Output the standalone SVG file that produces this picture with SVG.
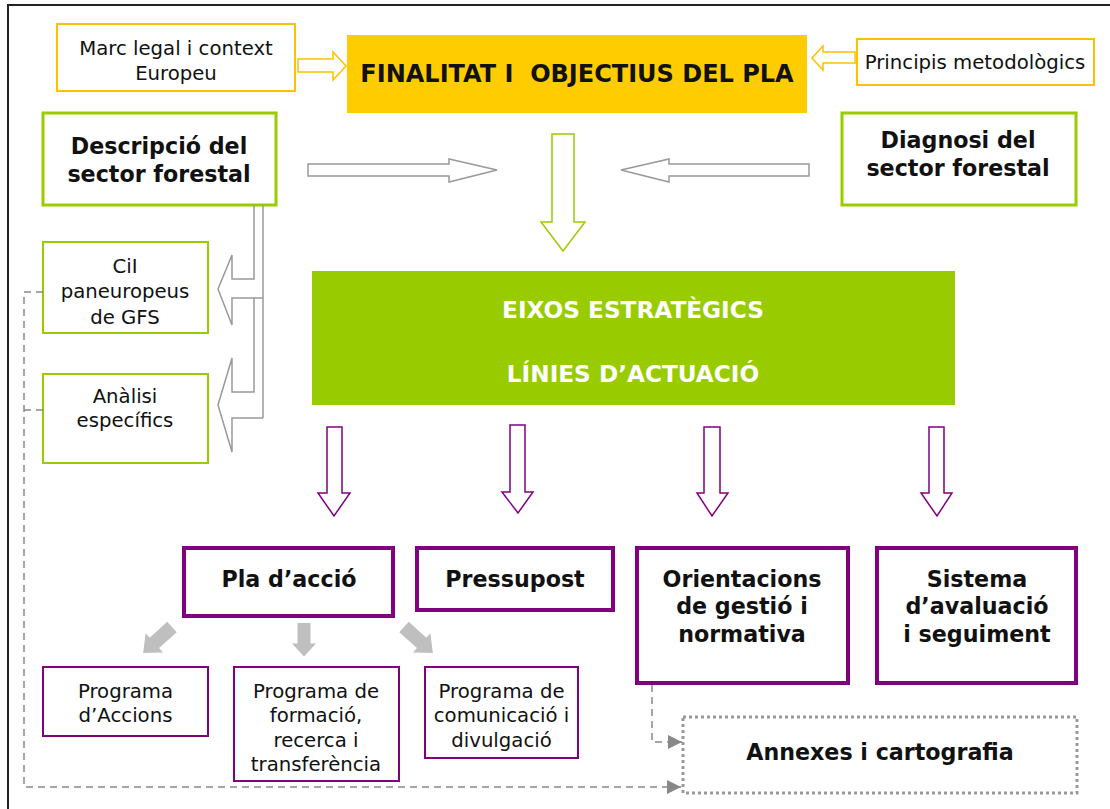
<svg xmlns="http://www.w3.org/2000/svg" width="1110" height="809" viewBox="0 0 1110 809">
<defs>
<style>
text{font-family:"DejaVu Sans","Verdana","Liberation Sans",sans-serif;fill:#111;text-anchor:middle}
.n{font-size:19.7px}
.b{font-size:22.2px;font-weight:bold}
.cap{font-size:23.2px}
.w{fill:#fff}
.yb{fill:#fff;stroke:#FFC000;stroke-width:2}
.gb{fill:#fff;stroke:#99CC00;stroke-width:3}
.gbt{fill:#fff;stroke:#99CC00;stroke-width:2}
.pb{fill:#fff;stroke:#800080;stroke-width:4}
.pbt{fill:#fff;stroke:#800080;stroke-width:2}
.ya{fill:#fff;stroke:#FFC000;stroke-width:1.5}
.ga{fill:#fff;stroke:#999;stroke-width:1.5}
.gna{fill:#fff;stroke:#99CC00;stroke-width:1.5}
.pa{fill:#fff;stroke:#800080;stroke-width:1.5}
.gl{fill:none;stroke:#999;stroke-width:1.5}
.fa{fill:#BFBFBF}
.ds{fill:none;stroke:#888;stroke-width:1.5;stroke-dasharray:7 5}
</style>
<marker id="ah" markerWidth="14" markerHeight="14" refX="14" refY="7" orient="auto" markerUnits="userSpaceOnUse">
<path d="M0,0 L14,7 L0,14 Z" fill="#888"/>
</marker>
<path id="blk" d="M-6.5,0 H6.5 V22 H12 L0,36 L-12,22 H-6.5 Z"/>
</defs>
<rect x="8" y="5" width="1110" height="815" fill="#fff" stroke="#222" stroke-width="2"/>

<g id="marc">
<rect class="yb" x="57" y="24" width="238" height="67"/>
<text class="n" x="176" y="55">Marc legal i context</text>
<text class="n" x="176" y="80">Europeu</text>
</g>
<g id="finalitat">
<rect x="347" y="35" width="460" height="78" fill="#FFCC00"/>
<text class="b" x="577" y="82" style="white-space:pre;font-size:24px">FINALITAT I  OBJECTIUS DEL PLA</text>
</g>
<g id="principis">
<rect class="yb" x="857" y="39" width="237" height="46"/>
<text class="n" x="975" y="69">Principis metodològics</text>
</g>
<g id="descripcio">
<rect class="gb" x="43" y="113" width="233" height="92"/>
<text class="b" x="159" y="154">Descripció del</text>
<text class="b" x="159" y="182">sector forestal</text>
</g>
<g id="diagnosi">
<rect class="gb" x="842" y="113" width="234" height="92"/>
<text class="b" x="958" y="148">Diagnosi del</text>
<text class="b" x="958" y="176">sector forestal</text>
</g>
<g id="cii">
<rect class="gbt" x="43" y="242" width="165" height="91"/>
<text class="n" x="125" y="273">CiI</text>
<text class="n" x="125" y="298">paneuropeus</text>
<text class="n" x="125" y="324">de GFS</text>
</g>
<g id="analisi">
<rect class="gbt" x="43" y="374" width="165" height="89"/>
<text class="n" x="125" y="403">Anàlisi</text>
<text class="n" x="125" y="427">específics</text>
</g>
<g id="eixos">
<rect x="312" y="271" width="643" height="134" fill="#99CC00"/>
<text class="b cap w" x="633" y="318">EIXOS ESTRATÈGICS</text>
<text class="b cap w" x="633" y="382">LÍNIES D’ACTUACIÓ</text>
</g>
<g id="pla">
<rect class="pb" x="184" y="548" width="209" height="68"/>
<text class="b" x="289" y="587">Pla d’acció</text>
</g>
<g id="pressupost">
<rect class="pb" x="417" y="548" width="196" height="62"/>
<text class="b" x="515" y="587">Pressupost</text>
</g>
<g id="orientacions">
<rect class="pb" x="637" y="548" width="211" height="135"/>
<text class="b" x="742" y="587">Orientacions</text>
<text class="b" x="742" y="614">de gestió i</text>
<text class="b" x="742" y="642">normativa</text>
</g>
<g id="sistema">
<rect class="pb" x="877" y="548" width="199" height="135"/>
<text class="b" x="977" y="587">Sistema</text>
<text class="b" x="977" y="614">d’avaluació</text>
<text class="b" x="977" y="642">i seguiment</text>
</g>
<g id="prog1">
<rect class="pbt" x="43" y="667" width="165" height="69"/>
<text class="n" x="125.5" y="698">Programa</text>
<text class="n" x="125.5" y="722">d’Accions</text>
</g>
<g id="prog2">
<rect class="pbt" x="234" y="667" width="165" height="114"/>
<text class="n" x="316" y="698">Programa de</text>
<text class="n" x="316" y="722">formació,</text>
<text class="n" x="316" y="747">recerca i</text>
<text class="n" x="316" y="771">transferència</text>
</g>
<g id="prog3">
<rect class="pbt" x="425" y="667" width="153" height="91"/>
<text class="n" x="501.5" y="698">Programa de</text>
<text class="n" x="501.5" y="722">comunicació i</text>
<text class="n" x="501.5" y="747">divulgació</text>
</g>
<g id="annexes">
<rect x="683" y="717" width="394" height="76" fill="#fff" stroke="#999" stroke-width="3" stroke-dasharray="3 3"/>
<text class="b" x="880" y="760">Annexes i cartografia</text>
</g>

<g id="connectors">
<polygon class="ya" points="298,59 333,59 333,52 346,66 333,80 333,72 298,72"/>
<polygon class="ya" points="812,58 823,46 823,52 855,52 855,63 823,63 823,70"/>
<polygon class="ga" points="308,164 449,164 449,159 497,170 449,182 449,176 308,176"/>
<polygon class="ga" points="621,170 669,159 669,164 809,164 809,176 669,176 669,182"/>
<polygon class="gna" points="552,134 574,134 574,222 585,222 563,251 541,222 552,222"/>
<path class="gl" d="M254,205 V279 H232 V255 L218,289 L232,325 V298 H263"/>
<path class="gl" d="M254,298 V392 H232 V358 L218,405 L232,452 V418 H263"/>
<path class="gl" d="M263,205 V418"/>
<polygon class="pa" points="327,427 342,427 342,493 350,493 334,516 318,493 327,493"/>
<polygon class="pa" points="510,425 525,425 525,492 533,492 518,513 502,492 510,492"/>
<polygon class="pa" points="704,427 720,427 720,493 728,493 712,516 697,493 704,493"/>
<polygon class="pa" points="929,427 944,427 944,493 952,493 937,516 921,493 929,493"/>
<use href="#blk" class="fa" transform="translate(304,623) scale(1,0.93)"/>
<use href="#blk" class="fa" transform="translate(172,627) rotate(48) scale(1.08)"/>
<use href="#blk" class="fa" transform="translate(404,627) rotate(-48) scale(1.08)"/>
<path class="ds" d="M43,292 H24 V787 H681" marker-end="url(#ah)"/>
<path class="ds" d="M43,410 H24"/>
<path class="ds" d="M652,685 V742 H682" marker-end="url(#ah)"/>
</g>
</svg>
